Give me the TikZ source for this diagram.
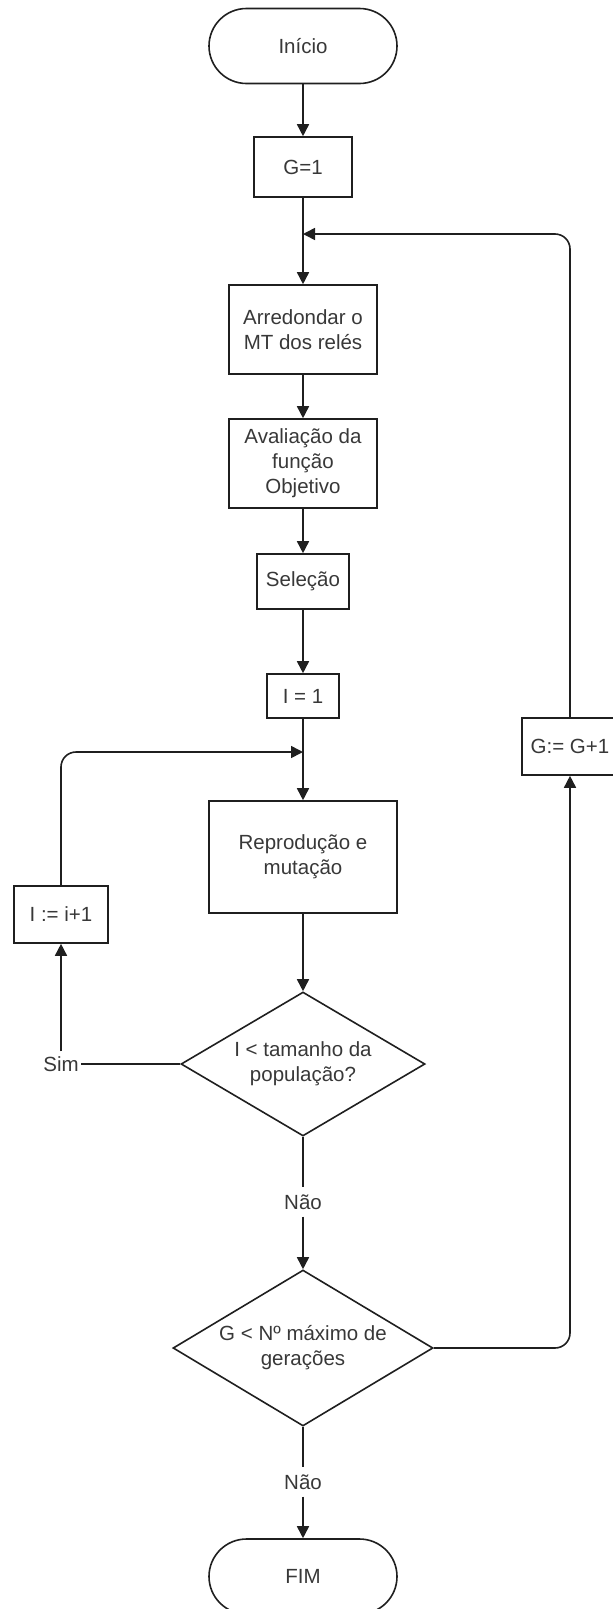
\documentclass[tikz,border=0pt]{standalone}
\usepackage{fontspec}
\setmainfont{Liberation Sans}
\usetikzlibrary{shapes.geometric,arrows.meta}
\begin{document}
\begin{tikzpicture}[x=1pt,y=-1pt,
  font=\fontsize{20.5}{25}\selectfont,
  every node/.style={text=black!78, align=center},
  line/.style={draw=black!88, line width=1.6pt},
  flow/.style={line, -{Triangle[length=12pt,width=12pt]}},
  terminal/.style={line, rectangle, rounded corners=37.5pt, minimum width=188pt, minimum height=75pt, inner sep=0pt},
  procbox/.style={line, rectangle, inner sep=0pt},
  decision/.style={line, diamond, inner sep=0pt, aspect=1.7},
  tag/.style={inner xsep=2pt, inner ysep=5pt}
]
\useasboundingbox (0,0) rectangle (613,1609);

% main column
\node[terminal] (start) at (303,46) {Início};
\node[procbox, minimum width=98pt, minimum height=60pt] (g1) at (303,167) {G=1};
\node[procbox, minimum width=148pt, minimum height=89pt] (round) at (303,329.5) {Arredondar o\\MT dos relés};
\node[procbox, minimum width=148pt, minimum height=89pt] (eval) at (303,463.5) {Avaliação da\\função\\Objetivo};
\node[procbox, minimum width=92pt, minimum height=55pt] (sel) at (303,581.5) {Seleção};
\node[procbox, minimum width=72pt, minimum height=44pt] (i1) at (303,696) {I = 1};
\node[procbox, minimum width=188pt, minimum height=112pt] (rep) at (303,857) {Reprodução e\\mutação};
\node[decision, minimum width=244pt, minimum height=144pt] (dec1) at (303,1064) {I < tamanho da\\população?};
\node[tag, minimum height=29pt, inner ysep=0pt] (nao1) at (303,1202) {Não};
\node[decision, minimum width=260pt, minimum height=156pt] (dec2) at (303,1348) {G < Nº máximo de\\gerações};
\node[tag, minimum height=29pt, inner ysep=0pt] (nao2) at (303,1482) {Não};
\node[terminal] (fim) at (303,1576.5) {FIM};

% side boxes
\node[procbox, minimum width=94pt, minimum height=57pt] (inc) at (61,914.5) {I := i+1};
\node[procbox, minimum width=96pt, minimum height=57pt] (gin) at (570,746.5) {G:= G+1};
\node[tag] (sim) at (61,1064) {Sim};

% junctions where the loops re-enter the main column
\coordinate (j2) at (303,234);
\coordinate (j1) at (303,752);

% main flow
\draw[flow] (start) -- (g1);
\draw[flow] (g1) -- (round);
\draw[flow] (round) -- (eval);
\draw[flow] (eval) -- (sel);
\draw[flow] (sel) -- (i1);
\draw[flow] (i1) -- (rep);
\draw[flow] (rep) -- (dec1);
\draw[line] (dec1.south) -- (nao1.north);
\draw[flow] (nao1.south) -- (dec2.north);
\draw[line] (dec2.south) -- (nao2.north);
\draw[flow] (nao2.south) -- (fim.north);

% inner loop: next individual
\draw[line] (dec1.west) -- (dec1.west -| sim.east);
\draw[flow] (sim.north) -- (inc.south);
\draw[flow, rounded corners=15pt] (inc.north) |- (j1);

% outer loop: next generation
\draw[flow, rounded corners=15pt] (dec2.east) -| (gin.south);
\draw[flow, rounded corners=15pt] (gin.north) |- (j2);
\end{tikzpicture}
\end{document}
